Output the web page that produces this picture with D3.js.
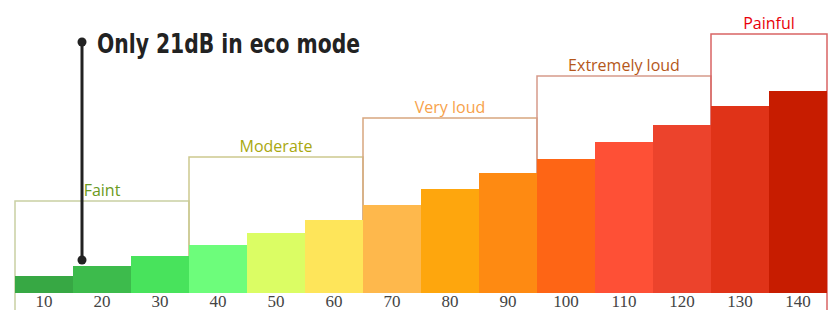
<!DOCTYPE html>
<html>
<head>
<meta charset="utf-8">
<script src="https://cdn.jsdelivr.net/npm/d3@7"></script>
<style>
  body { margin: 0; background: #fff; }
  svg { display: block; }
</style>
</head>
<body>
<div id="container"></div>
<script>
// dB levels and bar heights
var levels = ["10", "20", "30", "40", "50", "60", "70", "80", "90", "100", "110", "120", "130", "140"];
var barValues = [17, 27, 37, 48, 60, 73, 88, 104, 120, 134, 151, 168, 187, 202];
var barColors = ["#37a844", "#3dbb4c", "#48e35c", "#6dfd7b", "#dbfd64", "#fee55a", "#feb84c",
  "#fea60d", "#fe8a12", "#fe6515", "#fe5036", "#ec432c", "#e03318", "#c71c00"];

// loudness groups
var groupNames = ["Faint", "Moderate", "Very loud", "Extremely loud", "Painful"];
var groupFrom = ["10", "40", "70", "100", "130"];
var groupTo = ["30", "60", "90", "120", "140"];
var groupTops = [92, 136, 175, 217, 259];
var groupText = ["#6a9a22", "#a9a810", "#f7a24a", "#b5571a", "#e8000a"];
var groupLine = ["#c9d0a3", "#cdc98e", "#d8a77f", "#d69a8a", "#d96464"];

// annotation
var noteText = "Only 21dB in eco mode";
var noteLevel = "20";
var noteLow = 33;
var noteHigh = 251;

var width = 835;
var height = 310;
var baseY = 293;

var svg = d3.select("#container").append("svg")
  .attr("width", width)
  .attr("height", height);

var x = d3.scaleBand().domain(levels).range([15, 827]).padding(0);
var y = d3.scaleLinear().domain([0, 260]).range([baseY, 33]);

//グループの枠
var boxes = svg.append("g").selectAll("g")
  .data(groupNames)
  .enter().append("g");

boxes.append("path")
  .attr("fill", "none")
  .attr("stroke", function(d, i) { return groupLine[i]; })
  .attr("stroke-width", 1.5)
  .attr("d", function(d, i) {
    var x0 = x(groupFrom[i]);
    var x1 = x(groupTo[i]) + x.bandwidth();
    var yb0 = i === 0 ? height : baseY;
    var yb1 = i === groupNames.length - 1 ? height : baseY;
    return "M" + x0 + "," + yb0 + "V" + y(groupTops[i]) + "H" + x1 + "V" + yb1;
  });

boxes.append("text")
  .attr("x", function(d, i) {
    return (x(groupFrom[i]) + x(groupTo[i]) + x.bandwidth()) / 2;
  })
  .attr("y", function(d, i) { return y(groupTops[i]) - 5; })
  .attr("text-anchor", "middle")
  .attr("font-family", "'Open Sans', sans-serif")
  .attr("font-size", 16)
  .attr("fill", function(d, i) { return groupText[i]; })
  .text(function(d) { return d; });

//棒
svg.append("g").selectAll("rect")
  .data(barValues)
  .enter().append("rect")
  .attr("x", function(d, i) { return x(levels[i]); })
  .attr("y", function(d) { return y(d); })
  .attr("width", x.bandwidth())
  .attr("height", function(d) { return baseY - y(d); })
  .attr("fill", function(d, i) { return barColors[i]; });

//x軸
var axis = svg.append("g")
  .attr("transform", "translate(0," + baseY + ")")
  .call(d3.axisBottom(x).tickSize(0).tickPadding(2));
axis.select(".domain").remove();
axis.selectAll("text")
  .attr("font-family", "'Liberation Serif', serif")
  .attr("font-size", 17)
  .attr("fill", "#444")
  .attr("dy", "0.71em");

//注釈
var nx = x(noteLevel) + 9;
var note = svg.append("g");
note.append("line")
  .attr("x1", nx).attr("x2", nx)
  .attr("y1", y(noteLow)).attr("y2", y(noteHigh))
  .attr("stroke", "#222")
  .attr("stroke-width", 3);
note.selectAll("circle")
  .data([noteLow, noteHigh])
  .enter().append("circle")
  .attr("cx", nx)
  .attr("cy", function(d) { return y(d); })
  .attr("r", 4.5)
  .attr("fill", "#222");
note.append("text")
  .attr("x", nx + 15)
  .attr("y", y(noteHigh) + 11)
  .attr("font-family", "'Liberation Sans Narrow', 'DejaVu Sans Condensed', sans-serif")
  .attr("font-weight", "bold")
  .attr("font-size", 27)
  .attr("textLength", 263)
  .attr("lengthAdjust", "spacingAndGlyphs")
  .attr("fill", "#222")
  .text(noteText);
</script>
</body>
</html>
